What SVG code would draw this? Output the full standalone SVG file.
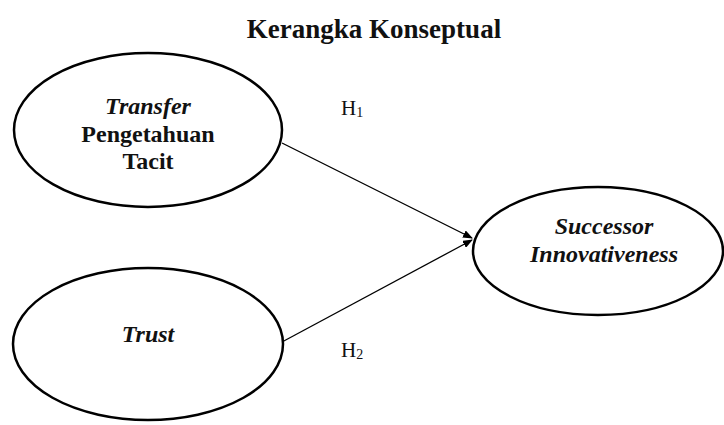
<svg xmlns="http://www.w3.org/2000/svg" width="724" height="425" viewBox="0 0 724 425">
<style>
text{font-family:"Liberation Serif","Times New Roman",serif;fill:#111}
.node{fill:#fff;stroke:#000;stroke-width:2.5}
.lbl{font-size:24px;font-weight:bold;text-anchor:middle}
.it{font-style:italic}
.h{font-size:21px}
.edge{stroke:#000;stroke-width:1.3;fill:none}
</style>
<defs>
<marker id="arr" markerWidth="10" markerHeight="8" refX="9" refY="4" orient="auto" markerUnits="userSpaceOnUse">
<path d="M0,0 L10,4 L0,8 z" fill="#000"/>
</marker>
</defs>
<text x="374" y="38" font-size="27" font-weight="bold" text-anchor="middle">Kerangka Konseptual</text>
<g id="connectors">
<line class="edge" x1="282" y1="143" x2="472" y2="238" marker-end="url(#arr)"/>
<line class="edge" x1="282" y1="342" x2="472" y2="240" marker-end="url(#arr)"/>
<text class="h" x="341" y="115">H<tspan font-size="14" dy="2">1</tspan></text>
<text class="h" x="341" y="357">H<tspan font-size="14" dy="2">2</tspan></text>
</g>
<g id="node-transfer">
<ellipse class="node" cx="148" cy="130" rx="134" ry="77"/>
<text class="lbl it" x="148" y="114">Transfer</text>
<text class="lbl" x="148" y="142">Pengetahuan</text>
<text class="lbl" x="148" y="169">Tacit</text>
</g>
<g id="node-trust">
<ellipse class="node" cx="148" cy="344" rx="135" ry="76"/>
<text class="lbl it" x="148" y="342">Trust</text>
</g>
<g id="node-successor">
<ellipse class="node" cx="598" cy="251" rx="125" ry="64"/>
<text class="lbl it" x="604" y="234">Successor</text>
<text class="lbl it" x="604" y="262">Innovativeness</text>
</g>
</svg>
